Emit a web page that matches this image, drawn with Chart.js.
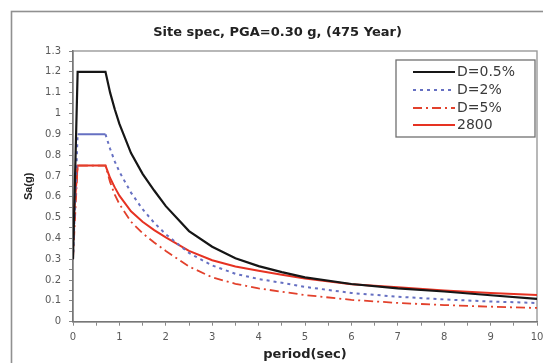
<!DOCTYPE html>
<html>
<head>
<meta charset="utf-8">
<script src="https://cdn.jsdelivr.net/npm/chart.js@4"></script>
<style>
  html, body { margin: 0; padding: 0; background: #fff; }
  #wrap { position: relative; width: 543px; height: 363px; }
</style>
</head>
<body>
<div id="wrap"><canvas id="spec" width="543" height="363"></canvas></div>
<script>
// ---------------------- data ----------------------
const TITLE = 'Site spec, PGA=0.30 g, (475 Year)';
const PERIOD = [0, 0.1, 0.7, 0.8, 0.9, 1, 1.25, 1.5, 1.75, 2, 2.5, 3, 3.5, 4, 4.5, 5, 6, 7, 8, 9, 10];
const SA_D05 = [0.3, 1.2, 1.2, 1.1, 1.02, 0.95, 0.81, 0.71, 0.63, 0.555, 0.435, 0.36, 0.305, 0.267, 0.238, 0.213, 0.181, 0.16, 0.145, 0.127, 0.11];
const SA_D2 = [0.3, 0.9, 0.9, 0.83, 0.77, 0.72, 0.62, 0.54, 0.475, 0.42, 0.33, 0.27, 0.23, 0.205, 0.187, 0.167, 0.138, 0.12, 0.107, 0.097, 0.09];
const SA_D5 = [0.3, 0.75, 0.75, 0.67, 0.61, 0.565, 0.48, 0.425, 0.38, 0.34, 0.265, 0.213, 0.182, 0.16, 0.144, 0.128, 0.105, 0.09, 0.08, 0.072, 0.066];
const SA_2800 = [0.45, 0.75, 0.75, 0.69, 0.645, 0.605, 0.53, 0.48, 0.44, 0.405, 0.34, 0.295, 0.265, 0.245, 0.225, 0.207, 0.18, 0.165, 0.15, 0.138, 0.128];
const LABELS = ['D=0.5%', 'D=2%', 'D=5%', '2800'];

const pts = (vals) => PERIOD.map((t, i) => ({ x: t, y: vals[i] }));

// ---------------------- plugins ----------------------
const frame = {
  id: 'frame',
  beforeDraw(chart) {
    const c = chart.ctx, a = chart.chartArea;
    c.save();
    c.fillStyle = '#fff';
    c.fillRect(0, 0, chart.width, chart.height);
    c.strokeStyle = '#909090';
    c.lineWidth = 1.6;
    c.strokeRect(11.5, 11.5, 700, 500);
    // plot area border (top / right)
    c.strokeStyle = '#9a9a9a';
    c.lineWidth = 1.4;
    c.strokeRect(a.left, a.top, a.right - a.left, a.bottom - a.top);
    c.restore();
  }
};

const boxLegend = {
  id: 'boxLegend',
  afterDraw(chart) {
    const c = chart.ctx, a = chart.chartArea;
    const w = 139, h = 77;
    const x0 = a.right - 2 - w, y0 = a.top + 9;
    c.save();
    c.fillStyle = '#fff';
    c.fillRect(x0, y0, w, h);
    c.strokeStyle = '#707070';
    c.lineWidth = 1.3;
    c.strokeRect(x0, y0, w, h);
    const rows = [12, 30, 48, 65];
    chart.data.datasets.forEach((ds, i) => {
      const y = y0 + rows[i];
      c.beginPath();
      c.setLineDash(ds.legendDash || []);
      c.strokeStyle = ds.borderColor;
      c.lineWidth = ds.borderWidth;
      c.moveTo(x0 + 17, y);
      c.lineTo(x0 + 59, y);
      c.stroke();
      c.setLineDash([]);
      c.fillStyle = '#3a3a3a';
      c.font = '14px "DejaVu Sans"';
      c.textBaseline = 'middle';
      c.fillText(ds.label, x0 + 61, y + 0.5);
    });
    c.restore();
  }
};

// ---------------------- chart ----------------------
const tickFont = { family: 'DejaVu Sans', size: 10 };
const isWhole = (v, step) => Math.abs(v / step - Math.round(v / step)) < 1e-6;

new Chart(document.getElementById('spec'), {
  type: 'line',
  data: {
    datasets: [
      { label: LABELS[0], data: pts(SA_D05), borderColor: '#161616', borderWidth: 2.2 },
      {
        label: LABELS[1], data: pts(SA_D2), borderColor: '#6670c2', borderWidth: 2,
        borderDash: [3, 4], legendDash: [3, 4],
        segment: { borderDash: (s) => (s.p0.parsed.y === s.p1.parsed.y ? [] : [3, 4]) }
      },
      { label: LABELS[2], data: pts(SA_D5), borderColor: '#e2412c', borderWidth: 1.8, borderDash: [9, 4, 2, 4], legendDash: [9, 4, 2, 4] },
      { label: LABELS[3], data: pts(SA_2800), borderColor: '#e63222', borderWidth: 2 }
    ]
  },
  options: {
    responsive: false,
    animation: false,
    devicePixelRatio: 1,
    elements: { point: { radius: 0 }, line: { tension: 0 } },
    layout: { padding: { left: 12, top: 12, right: 0, bottom: 0 } },
    plugins: {
      legend: { display: false },
      tooltip: { enabled: false },
      title: {
        display: true,
        text: TITLE,
        color: '#222',
        font: { family: 'DejaVu Sans', size: 13, weight: 'bold' },
        padding: { top: 13, bottom: 10.4 }
      }
    },
    scales: {
      x: {
        type: 'linear',
        min: 0, max: 10,
        afterFit: (s) => { s.height = 41.3; s.paddingRight = 6; s.paddingLeft = 0; },
        border: { color: '#777', width: 1.5 },
        grid: { drawOnChartArea: false, tickLength: 4, color: '#888' },
        ticks: {
          stepSize: 0.5, autoSkip: false, maxRotation: 0, padding: 6,
          color: '#5a5a5a', font: tickFont,
          callback: (v) => (isWhole(v, 1) ? String(Math.round(v)) : '')
        },
        title: {
          display: true, text: 'period(sec)', color: '#222',
          font: { family: 'DejaVu Sans', size: 13, weight: 'bold' },
          padding: { top: 0, bottom: 1 }
        }
      },
      y: {
        min: 0, max: 1.3,
        afterFit: (s) => { s.width = 61; },
        border: { color: '#777', width: 1.5 },
        grid: { drawOnChartArea: false, tickLength: 4, color: '#888' },
        ticks: {
          stepSize: 0.05, autoSkip: false, padding: 8,
          color: '#5a5a5a', font: tickFont,
          callback: (v) => (isWhole(v, 0.1) ? String(Math.round(v * 10) / 10) : '')
        },
        title: {
          display: true, text: 'Sa(g)', color: '#222',
          font: { family: 'Liberation Sans', size: 11, weight: 'bold' },
          padding: { top: 10.5, bottom: 0 }
        }
      }
    }
  },
  plugins: [frame, boxLegend]
});
</script>
</body>
</html>
